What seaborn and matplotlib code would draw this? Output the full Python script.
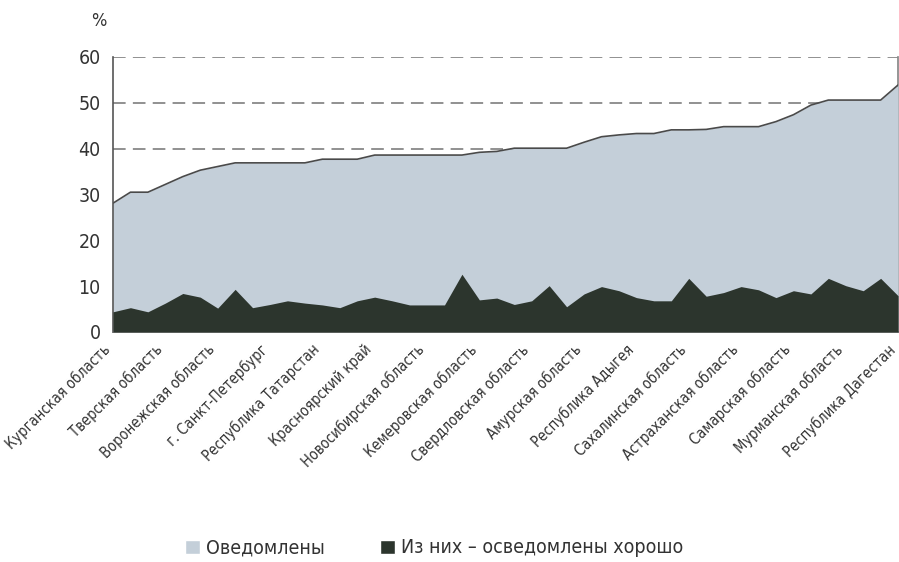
import numpy as np
import seaborn as sns
import matplotlib.pyplot as plt
from matplotlib.patches import Patch
from matplotlib.transforms import ScaledTranslation

# подписи (каждая третья точка)
regions = ['Курганская область', 'Тверская область', 'Воронежская область',
           'г. Санкт-Петербург', 'Республика Татарстан', 'Красноярский край',
           'Новосибирская область', 'Кемеровская область', 'Свердловская область',
           'Амурская область', 'Республика Адыгея', 'Сахалинская область',
           'Астраханская область', 'Самарская область', 'Мурманская область',
           'Республика Дагестан']

# доля оведомленных, %
informed = [28.1, 30.5, 30.5, 32.2, 33.9, 35.3, 36.1, 36.9, 36.9, 36.9,
            36.9, 36.9, 37.7, 37.7, 37.7, 38.6, 38.6, 38.6, 38.6, 38.6,
            38.6, 39.2, 39.4, 40.1, 40.1, 40.1, 40.1, 41.4, 42.6, 43.0,
            43.3, 43.3, 44.1, 44.1, 44.2, 44.8, 44.8, 44.8, 45.9, 47.4,
            49.5, 50.6, 50.6, 50.6, 50.6, 53.9]

# из них - осведомлены хорошо, %
well = [4.4, 5.3, 4.4, 6.3, 8.4, 7.6, 5.2, 9.3, 5.3, 6.0,
        6.8, 6.3, 5.9, 5.3, 6.8, 7.6, 6.8, 5.9, 5.9, 5.9,
        12.6, 7.0, 7.4, 6.0, 6.8, 10.1, 5.5, 8.3, 9.9, 9.0,
        7.5, 6.8, 6.8, 11.7, 7.8, 8.6, 9.9, 9.2, 7.5, 9.0,
        8.3, 11.7, 10.1, 9.0, 11.7, 7.9]

sns.set_theme(style="white")
plt.rcParams['font.family'] = ['DejaVu Sans']
plt.rcParams['font.stretch'] = 'condensed'

light = '#c4cfd9'
dark = '#2c352d'
txt = '#333333'

x = np.arange(len(informed))

fig = plt.figure(figsize=(8.99, 5.62), dpi=100)
ax = fig.add_axes([0.1257, 0.4093, 0.8733, 0.4893])

ax.fill_between(x, informed, color=light, lw=0, zorder=1)
sns.lineplot(x=x, y=informed, ax=ax, color='#4a4a4a', lw=1.2, zorder=2)
ax.fill_between(x, well, color=dark, lw=0, zorder=3)

for v in [40, 50, 60]:
    ax.axhline(v, color='#888888', lw=1.3, ls=(0, (7, 4)), zorder=0.5)

ax.set_xlim(0, len(informed) - 1)
ax.set_ylim(0, 60)
ax.set_yticks(range(0, 61, 10))
ax.set_xticks(x, minor=True)
ax.set_xticks(x[::3])
ax.set_xticklabels(regions, rotation=45, ha='right', va='center',
                   rotation_mode='anchor', fontsize=10.5, color=txt)
ax.tick_params(axis='y', labelsize=14, colors=txt, length=6, width=1,
               direction='inout', pad=6)
ax.tick_params(axis='x', which='both', length=5, width=0.8, colors='#777777',
               direction='out', pad=6)
shift = ScaledTranslation(-5 / 100, 0, fig.dpi_scale_trans)
for lab in ax.get_yticklabels():
    lab.set_color(txt)
for lab in ax.get_xticklabels():
    lab.set_color(txt)
    lab.set_transform(lab.get_transform() + shift)

ax.spines['top'].set_visible(False)
ax.spines['right'].set_color('#888888')
ax.spines['right'].set_zorder(0.6)
ax.spines['left'].set_color('#555555')
ax.spines['left'].set_linewidth(1.2)
ax.spines['bottom'].set_color('#777777')
ax.set_xlabel('')
ax.set_ylabel('')

fig.text(0.11, 0.962, '%', fontsize=13, color=txt, ha='center', va='center')

leg_items = [('Оведомлены', light, 185), ('Из них – осведомлены хорошо', dark, 380)]
for name, col, px in leg_items:
    fig.legend(handles=[Patch(facecolor=col, label=name)], loc='center left',
               bbox_to_anchor=(px / 899, 0.025), frameon=False, fontsize=14,
               handlelength=0.75, handleheight=0.75, handletextpad=0.35,
               borderpad=0, borderaxespad=0, labelcolor=txt)

fig.savefig('out.png', dpi=100)
